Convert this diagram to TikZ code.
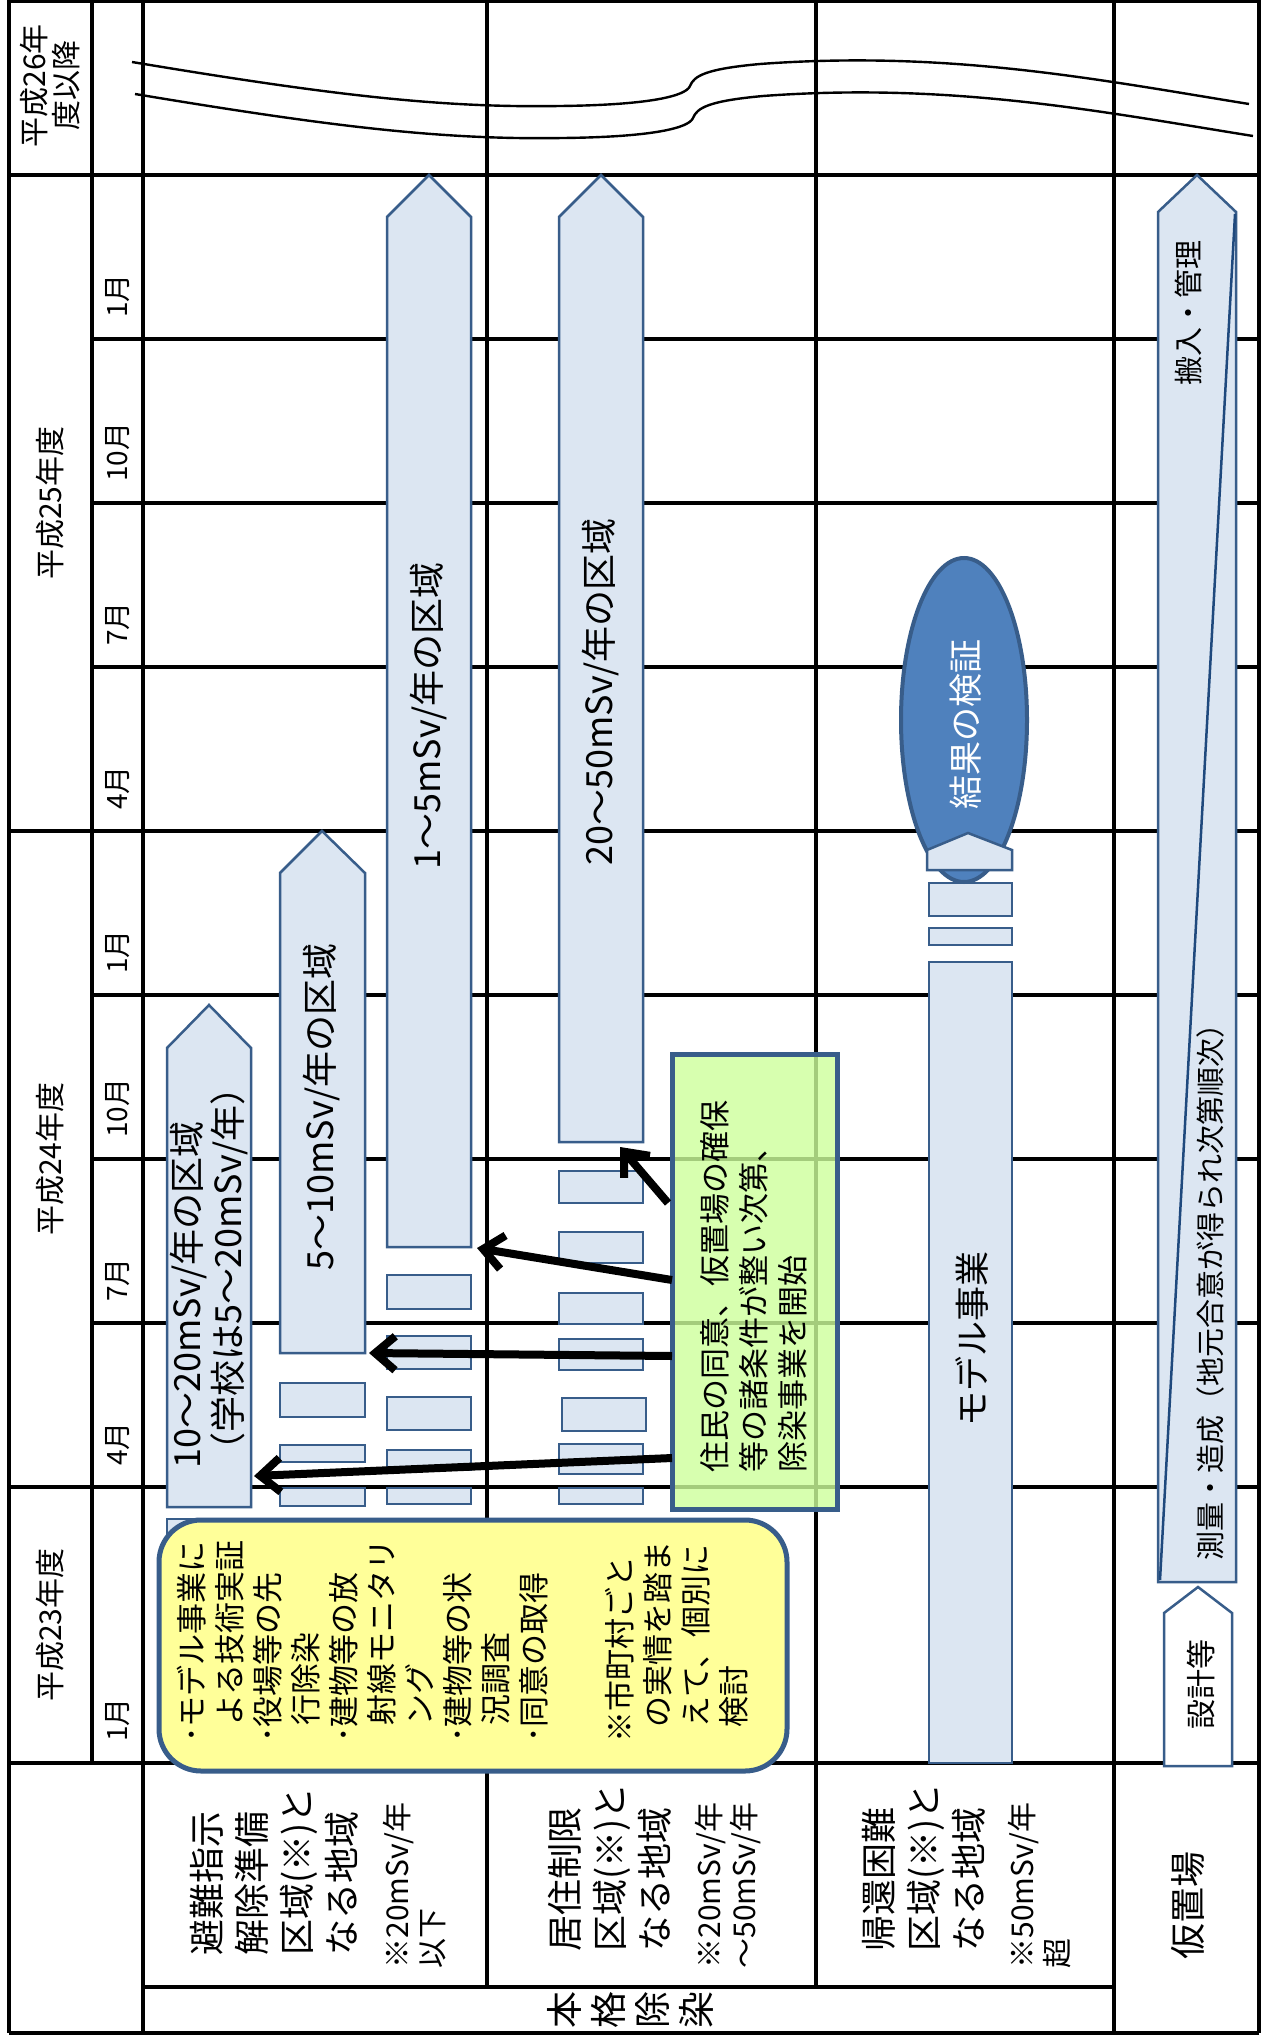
\documentclass[tikz,border=0pt]{standalone}
\usepackage{fontspec}
\setmainfont{Noto Sans CJK JP}
\usetikzlibrary{arrows.meta}
\definecolor{barfill}{RGB}{220,230,242}
\definecolor{barline}{RGB}{56,93,138}
\definecolor{ellfill}{RGB}{79,129,189}
\definecolor{diagcol}{RGB}{31,73,125}
\definecolor{noteyel}{RGB}{255,255,153}
\definecolor{condgreen}{RGB}{205,255,155}
\newcommand{\myfs}[2]{\fontsize{#1}{#2}\selectfont}
\begin{document}
\begin{tikzpicture}[x=0.5pt,y=-0.5pt,
  grid/.style={line width=1.6pt,black},
  wave/.style={line width=1.2pt,black},
  bar/.style={draw=barline,fill=barfill,line width=1.25pt},
  rot/.style={rotate=90,inner sep=0pt},
  arr/.style={line width=4pt,-{Straight Barb[length=10pt,width=17pt]}},
]
\useasboundingbox (0,0) rectangle (1260,2044);
\fill[white] (0,0) rectangle (1260,2044);

% ---------- grid ----------
\draw[grid] (9,1) -- (1259,1);
\draw[grid] (9,0) -- (9,2033);
\draw[grid] (92,0) -- (92,1763);
\draw[grid] (143,0) -- (143,2033);
\draw[grid] (487,0) -- (487,1987);
\draw[grid] (816,0) -- (816,1987);
\draw[grid] (1114,0) -- (1114,2033);
\draw[grid] (1259,0) -- (1259,2033);
\foreach \yy in {175,831,1487,1763,2033} \draw[grid] (9,\yy) -- (1259,\yy);
\foreach \yy in {339,503,667,995,1159,1323} \draw[grid] (92,\yy) -- (1259,\yy);
\draw[grid] (143,1987) -- (1114,1987);

% ---------- break lines ----------
\draw[wave] (132,62) .. controls (330,95) and (440,108) .. (560,106)
  .. controls (650,105) and (686,96) .. (690,86)
  .. controls (694,76) and (705,69) .. (760,64)
  .. controls (950,50) and (1100,80) .. (1249,104);
\draw[wave] (135,94) .. controls (333,127) and (443,140) .. (563,138)
  .. controls (653,137) and (689,128) .. (693,118)
  .. controls (697,108) and (708,101) .. (763,96)
  .. controls (953,82) and (1103,112) .. (1253,136);

% ---------- bars ----------
\draw[bar] (167,1519) rectangle (251,1700);
\draw[bar] (167,1507) -- (167,1048) -- (209,1005) -- (251,1048) -- (251,1507) -- cycle;
\draw[bar] (280,1353) -- (280,873) -- (322,831) -- (365,873) -- (365,1353) -- cycle;
\draw[bar] (387,1247) -- (387,217) -- (429,175) -- (471,217) -- (471,1247) -- cycle;
\draw[bar] (559,1142) -- (559,217) -- (601,175) -- (643,217) -- (643,1142) -- cycle;
% small blocks
\foreach \a/\b in {1383/1417,1445/1462,1488/1506} \draw[bar] (280,\a) rectangle (365,\b);
\foreach \a/\b in {1275/1309,1336/1369,1397/1430,1450/1470,1488/1504} \draw[bar] (387,\a) rectangle (471,\b);
\foreach \a/\b in {1171/1203,1232/1263,1293/1324,1339/1370,1444/1474,1488/1504} \draw[bar] (559,\a) rectangle (643,\b);
\draw[bar] (562,1398) rectangle (646,1431);
% model project
\draw[bar] (929,962) rectangle (1012,1763);
\draw[bar] (929,928) rectangle (1012,945);
\draw[bar] (929,883) rectangle (1012,916);
\draw[draw=barline,fill=ellfill,line width=2pt] (964,720) ellipse [x radius=31.5pt,y radius=81pt];
\draw[bar] (927,870) -- (927,850) -- (968,833) -- (1012,850) -- (1012,870) -- cycle;
% temporary storage
\draw[bar] (1158,1582) -- (1158,212) -- (1197,175) -- (1236,212) -- (1236,1582) -- cycle;
\draw[diagcol,line width=1.25pt] (1160,1580) -- (1235,214);
\draw[draw=barline,fill=white,line width=1.25pt] (1164,1766) -- (1164,1613) -- (1198,1587) -- (1232,1613) -- (1232,1766) -- cycle;

% ---------- yellow note ----------
\draw[draw=barline,fill=noteyel,line width=2.5pt,rounded corners=21pt] (159,1520) rectangle (787,1771);

% ---------- condition box ----------
\node[draw=barline,fill=condgreen,fill opacity=0.8,line width=2.5pt,
      minimum width=82.5pt,minimum height=227.5pt,inner sep=0pt] (cond) at (754.5,1281.5) {};

% ---------- arrows ----------
\coordinate (s1) at (672,1458); \coordinate (e1) at (254,1476);
\coordinate (s2) at (672,1356); \coordinate (e2) at (369,1353);
\coordinate (s3) at (672,1280); \coordinate (e3) at (477,1248);
\coordinate (s4) at (668,1203); \coordinate (e4) at (620,1147);
\draw[arr] (s1) -- (e1);
\draw[arr] (s2) -- (e2);
\draw[arr] (s3) -- (e3);
\draw[arr] (s4) -- (e4);

% ---------- header labels ----------
\node[rot,align=center,font=\myfs{15}{16}] (y26) at (50,86) {平成26年\\度以降};
\node[rot,font=\myfs{15}{18}] (y25) at (50,503) {平成25年度};
\node[rot,font=\myfs{15}{18}] (y24) at (50,1159) {平成24年度};
\node[rot,font=\myfs{15}{18}] (y23) at (50,1625) {平成23年度};
\node[rot,anchor=west,font=\myfs{14}{16}] (m1) at (118,318) {1月};
\node[rot,anchor=west,font=\myfs{14}{16}] (m2) at (118,482) {10月};
\node[rot,anchor=west,font=\myfs{14}{16}] (m3) at (118,646) {7月};
\node[rot,anchor=west,font=\myfs{14}{16}] (m4) at (118,810) {4月};
\node[rot,anchor=west,font=\myfs{14}{16}] (m5) at (118,974) {1月};
\node[rot,anchor=west,font=\myfs{14}{16}] (m6) at (118,1138) {10月};
\node[rot,anchor=west,font=\myfs{14}{16}] (m7) at (118,1302) {7月};
\node[rot,anchor=west,font=\myfs{14}{16}] (m8) at (118,1466) {4月};
\node[rot,anchor=west,font=\myfs{14}{16}] (m9) at (118,1742) {1月};

% ---------- row labels ----------
\node[rot,anchor=north west,align=left,font=\myfs{18}{22.5}] (r1) at (190,1956) {避難指示\\解除準備\\区域(※)と\\なる地域};
\node[rot,anchor=north west,align=left,font=\myfs{15}{17.5}] (r1n) at (383,1969) {※20mSv/年\\以下};
\node[rot,anchor=north west,align=left,font=\myfs{18}{22.5}] (r2) at (548,1952) {居住制限\\区域(※)と\\なる地域};
\node[rot,anchor=north west,align=left,font=\myfs{15}{17.5}] (r2n) at (695,1969) {※20mSv/年\\～50mSv/年};
\node[rot,anchor=north west,align=left,font=\myfs{18}{22.5}] (r3) at (862,1952) {帰還困難\\区域(※)と\\なる地域};
\node[rot,anchor=north west,align=left,font=\myfs{15}{17.5}] (r3n) at (1008,1969) {※50mSv/年\\超};
\node[rot,font=\myfs{18}{22}] (r4) at (1188,1905) {仮置場};
\node[rot,align=center,font=\myfs{18.5}{22}] (hk) at (630,2010) {本\\格\\除\\染};

% ---------- bar labels ----------
\node[rot,anchor=west,align=left,font=\myfs{18}{20.5}] (tA) at (209,1469) {10～20mSv/年の区域\\（学校は5～20mSv/年）};
\node[rot,anchor=west,font=\myfs{18}{20}] (tB) at (322,1271) {5～10mSv/年の区域};
\node[rot,anchor=west,font=\myfs{18}{20}] (tC) at (429,870) {1～5mSv/年の区域};
\node[rot,anchor=west,font=\myfs{18}{20}] (tD) at (601,866) {20～50mSv/年の区域};
\node[rot,font=\myfs{17.5}{20}] (tM) at (972,1339) {モデル事業};
\node[rot,font=\myfs{17}{20},text=white] (tE) at (966,724) {結果の検証};
\node[rot,font=\myfs{14.5}{17}] (tF1) at (1188,313) {搬入・管理};
\node[rot,anchor=west,font=\myfs{14.5}{17}] (tF2) at (1210,1561) {測量・造成（地元合意が得られ次第順次）};
\node[rot,font=\myfs{15}{17}] (tG) at (1201,1684) {設計等};

% ---------- box texts ----------
\node[rot,anchor=north west,align=left,font=\myfs{15.5}{19.5}] (tcond) at (700,1473) {住民の同意、仮置場の確保\\等の諸条件が整い次第、\\除染事業を開始};
\node[rot,anchor=north west,align=left,font=\myfs{15.5}{19}] (ny1) at (177,1743) {･モデル事業に\\\hspace*{0.55em}よる技術実証\\･役場等の先\\\hspace*{0.55em}行除染\\･建物等の放\\\hspace*{0.55em}射線モニタリ\\\hspace*{0.55em}ング\\･建物等の状\\\hspace*{0.55em}況調査\\･同意の取得};
\node[rot,anchor=north west,align=left,font=\myfs{15.5}{19}] (ny2) at (605,1743) {※市町村ごと\\\hspace*{0.5em}の実情を踏ま\\\hspace*{0.5em}えて、個別に\\\hspace*{0.5em}検討};
\end{tikzpicture}
\end{document}
